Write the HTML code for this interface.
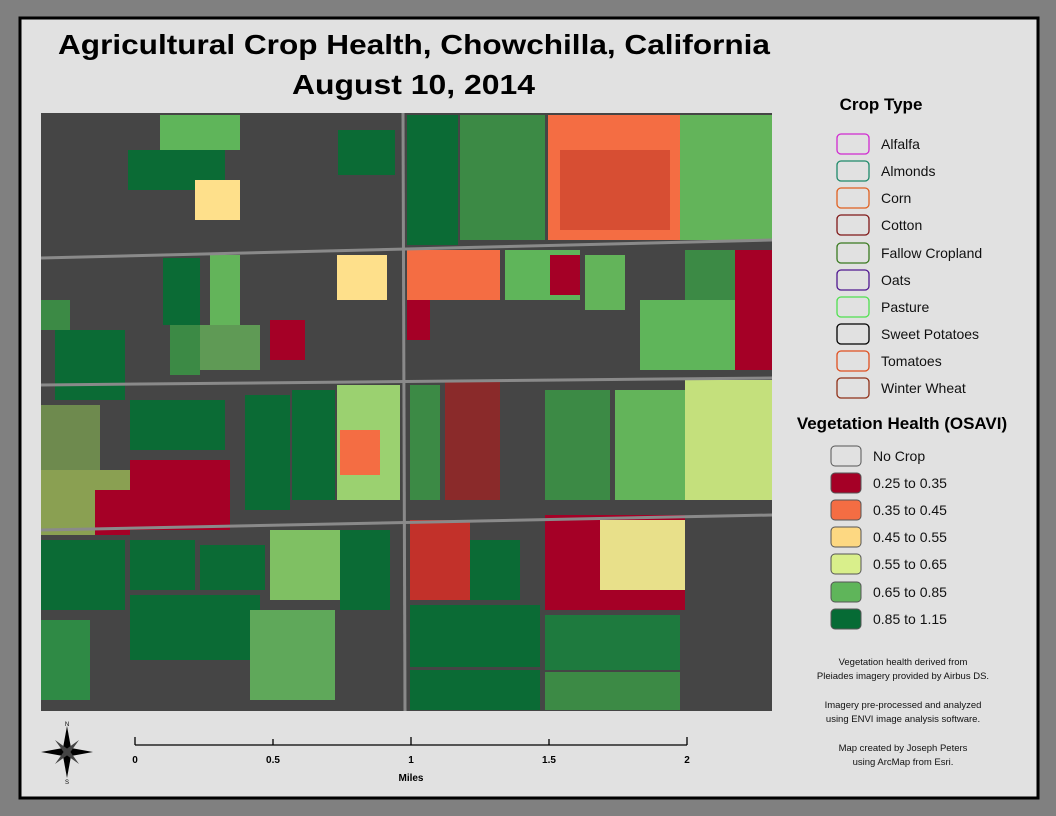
<!DOCTYPE html>
<html><head><meta charset="utf-8"><style>
body{margin:0;width:1056px;height:816px;background:#808080;overflow:hidden;font-family:"Liberation Sans",sans-serif}
</style></head><body>
<svg width="1056" height="816" xmlns="http://www.w3.org/2000/svg" style="position:absolute;left:0;top:0">
<rect x="20" y="18" width="1018" height="780" fill="#e1e1e1" stroke="#000" stroke-width="3"/>
<g font-family="Liberation Sans, sans-serif" font-weight="bold" font-size="28" fill="#000">
<text x="58" y="54" textLength="712" lengthAdjust="spacingAndGlyphs">Agricultural Crop Health, Chowchilla, California</text>
<text x="292" y="94" textLength="243" lengthAdjust="spacingAndGlyphs">August 10, 2014</text>
</g>
<clipPath id="m"><rect x="41" y="113" width="731" height="598"/></clipPath>
<g clip-path="url(#m)">
<rect x="41" y="113" width="731" height="598" fill="#454545"/>
<g stroke="none">
<rect x="407" y="115" width="51" height="130" fill="#0b6b35"/>
<rect x="338" y="130" width="57" height="45" fill="#0b6b35"/>
<rect x="128" y="150" width="97" height="40" fill="#0b6b35"/>
<rect x="160" y="115" width="80" height="35" fill="#5fb55a"/>
<rect x="195" y="180" width="45" height="40" fill="#fee08b"/>
<rect x="548" y="115" width="132" height="125" fill="#f46d43"/>
<rect x="560" y="150" width="110" height="80" fill="#c33a2a" opacity=".6"/>
<rect x="680" y="115" width="92" height="125" fill="#63b45a"/>
<rect x="460" y="115" width="85" height="125" fill="#3c8a45"/>
<rect x="337" y="255" width="50" height="45" fill="#fee08b"/>
<rect x="407" y="250" width="93" height="50" fill="#f46d43"/>
<rect x="505" y="250" width="75" height="50" fill="#5fb55a"/>
<rect x="550" y="255" width="30" height="40" fill="#a50026"/>
<rect x="585" y="255" width="40" height="55" fill="#63b45a"/>
<rect x="685" y="250" width="50" height="50" fill="#3c8a45"/>
<rect x="735" y="250" width="37" height="120" fill="#a50026"/>
<rect x="640" y="300" width="95" height="70" fill="#5fb55a"/>
<rect x="163" y="258" width="37" height="67" fill="#0b6b35"/>
<rect x="210" y="255" width="30" height="75" fill="#63b45a"/>
<rect x="41" y="300" width="29" height="30" fill="#3c8a45"/>
<rect x="55" y="330" width="70" height="70" fill="#0b6b35"/>
<rect x="270" y="320" width="35" height="40" fill="#a50026"/>
<rect x="170" y="325" width="30" height="50" fill="#3c8a45"/>
<rect x="200" y="325" width="60" height="45" fill="#5f9a55"/>
<rect x="407" y="300" width="23" height="40" fill="#a50026"/>
<rect x="130" y="400" width="95" height="50" fill="#0b6b35"/>
<rect x="245" y="395" width="45" height="115" fill="#0b6b35"/>
<rect x="292" y="390" width="43" height="110" fill="#0b6b35"/>
<rect x="337" y="385" width="63" height="115" fill="#9bd170"/>
<rect x="340" y="430" width="40" height="45" fill="#f46d43"/>
<rect x="41" y="405" width="59" height="65" fill="#6e8a4e"/>
<rect x="41" y="470" width="89" height="65" fill="#8aa052"/>
<rect x="95" y="490" width="35" height="45" fill="#a50026"/>
<rect x="130" y="460" width="100" height="70" fill="#a50026"/>
<rect x="410" y="385" width="30" height="115" fill="#3c8a45"/>
<rect x="445" y="380" width="55" height="120" fill="#8a2a2a"/>
<rect x="545" y="390" width="65" height="110" fill="#3c8a45"/>
<rect x="615" y="390" width="70" height="110" fill="#63b45a"/>
<rect x="685" y="380" width="87" height="120" fill="#c4e07c"/>
<rect x="41" y="540" width="84" height="70" fill="#0b6b35"/>
<rect x="130" y="540" width="65" height="50" fill="#0b6b35"/>
<rect x="200" y="545" width="65" height="45" fill="#0b6b35"/>
<rect x="130" y="595" width="130" height="65" fill="#0b6b35"/>
<rect x="270" y="530" width="70" height="70" fill="#7fc063"/>
<rect x="340" y="530" width="50" height="80" fill="#0b6b35"/>
<rect x="410" y="520" width="60" height="80" fill="#c2312a"/>
<rect x="470" y="540" width="50" height="60" fill="#0b6b35"/>
<rect x="545" y="515" width="140" height="95" fill="#a50026"/>
<rect x="600" y="520" width="85" height="70" fill="#e8e08a"/>
<rect x="410" y="605" width="130" height="62" fill="#0b6b35"/>
<rect x="410" y="670" width="130" height="40" fill="#0b6b35"/>
<rect x="545" y="615" width="135" height="55" fill="#1e7a3e"/>
<rect x="545" y="672" width="135" height="38" fill="#3c8a45"/>
<rect x="250" y="610" width="85" height="90" fill="#5fa85a"/>
<rect x="41" y="620" width="49" height="80" fill="#2f8a45"/>
</g>
<g stroke="#8a8a8a" stroke-width="3" fill="none">
<path d="M41 258 L772 240"/>
<path d="M41 385 L772 378"/>
<path d="M41 530 L772 515"/>
<path d="M403 113 L405 711"/>
</g>
</g>
<text x="881" y="110" font-size="17" font-weight="bold" text-anchor="middle">Crop Type</text>
<g fill="none" stroke-width="1.3">
<rect x="837" y="134" width="32" height="20" rx="4" stroke="#d02ad0"/>
<rect x="837" y="161" width="32" height="20" rx="4" stroke="#1f8a6a"/>
<rect x="837" y="188" width="32" height="20" rx="4" stroke="#e06020"/>
<rect x="837" y="215" width="32" height="20" rx="4" stroke="#801818"/>
<rect x="837" y="243" width="32" height="20" rx="4" stroke="#3a7a20"/>
<rect x="837" y="270" width="32" height="20" rx="4" stroke="#501890"/>
<rect x="837" y="297" width="32" height="20" rx="4" stroke="#50e050"/>
<rect x="837" y="324" width="32" height="20" rx="4" stroke="#000"/>
<rect x="837" y="351" width="32" height="20" rx="4" stroke="#e05020"/>
<rect x="837" y="378" width="32" height="20" rx="4" stroke="#903018"/>
</g>
<g font-size="14" fill="#111">
<text x="881" y="149">Alfalfa</text><text x="881" y="176">Almonds</text><text x="881" y="203">Corn</text>
<text x="881" y="230">Cotton</text><text x="881" y="258">Fallow Cropland</text><text x="881" y="285">Oats</text>
<text x="881" y="312">Pasture</text><text x="881" y="339">Sweet Potatoes</text><text x="881" y="366">Tomatoes</text>
<text x="881" y="393">Winter Wheat</text>
</g>
<text x="902" y="429" font-size="17" font-weight="bold" text-anchor="middle">Vegetation Health (OSAVI)</text>
<g stroke="#555" stroke-width="1">
<rect x="831" y="446" width="30" height="20" rx="4" fill="#e1e1e1"/>
<rect x="831" y="473" width="30" height="20" rx="4" fill="#a50026"/>
<rect x="831" y="500" width="30" height="20" rx="4" fill="#f46d43"/>
<rect x="831" y="527" width="30" height="20" rx="4" fill="#fdd882"/>
<rect x="831" y="554" width="30" height="20" rx="4" fill="#d9ef8b"/>
<rect x="831" y="582" width="30" height="20" rx="4" fill="#5fb55a"/>
<rect x="831" y="609" width="30" height="20" rx="4" fill="#066b35"/>
</g>
<g font-size="14" fill="#111">
<text x="873" y="461">No Crop</text><text x="873" y="488">0.25 to 0.35</text><text x="873" y="515">0.35 to 0.45</text>
<text x="873" y="542">0.45 to 0.55</text><text x="873" y="569">0.55 to 0.65</text><text x="873" y="597">0.65 to 0.85</text>
<text x="873" y="624">0.85 to 1.15</text>
</g>
<g font-size="9.5" fill="#111" text-anchor="middle">
<text x="903" y="665">Vegetation health derived from</text>
<text x="903" y="679">Pleiades imagery provided by Airbus DS.</text>
<text x="903" y="708">Imagery pre-processed and analyzed</text>
<text x="903" y="722">using ENVI image analysis software.</text>
<text x="903" y="751">Map created by Joseph Peters</text>
<text x="903" y="765">using ArcMap from Esri.</text>
</g>
<g stroke="#000" stroke-width="1.3" fill="none">
<path d="M135 745 H687 M135 737 V745 M273 739 V745 M411 737 V745 M549 739 V745 M687 737 V745"/>
</g>
<g font-size="10" font-weight="bold" text-anchor="middle">
<text x="135" y="763">0</text><text x="273" y="763">0.5</text><text x="411" y="763">1</text><text x="549" y="763">1.5</text><text x="687" y="763">2</text>
<text x="411" y="781">Miles</text>
</g>
<g transform="translate(67,752)">
<polygon points="0,-26 4,-4 0,0 -4,-4" fill="#000"/>
<polygon points="0,26 4,4 0,0 -4,4" fill="#000"/>
<polygon points="-26,0 -4,-4 0,0 -4,4" fill="#000"/>
<polygon points="26,0 4,-4 0,0 4,4" fill="#000"/>
<polygon points="-12,-12 2,-2 -2,2" fill="#444"/><polygon points="12,12 2,-2 -2,2" fill="#444"/>
<polygon points="12,-12 2,2 -2,-2" fill="#444"/><polygon points="-12,12 2,2 -2,-2" fill="#444"/>
<text x="0" y="-26" font-size="6" text-anchor="middle">N</text>
<text x="0" y="32" font-size="6" text-anchor="middle">S</text>
</g>
</svg>
</body></html>
